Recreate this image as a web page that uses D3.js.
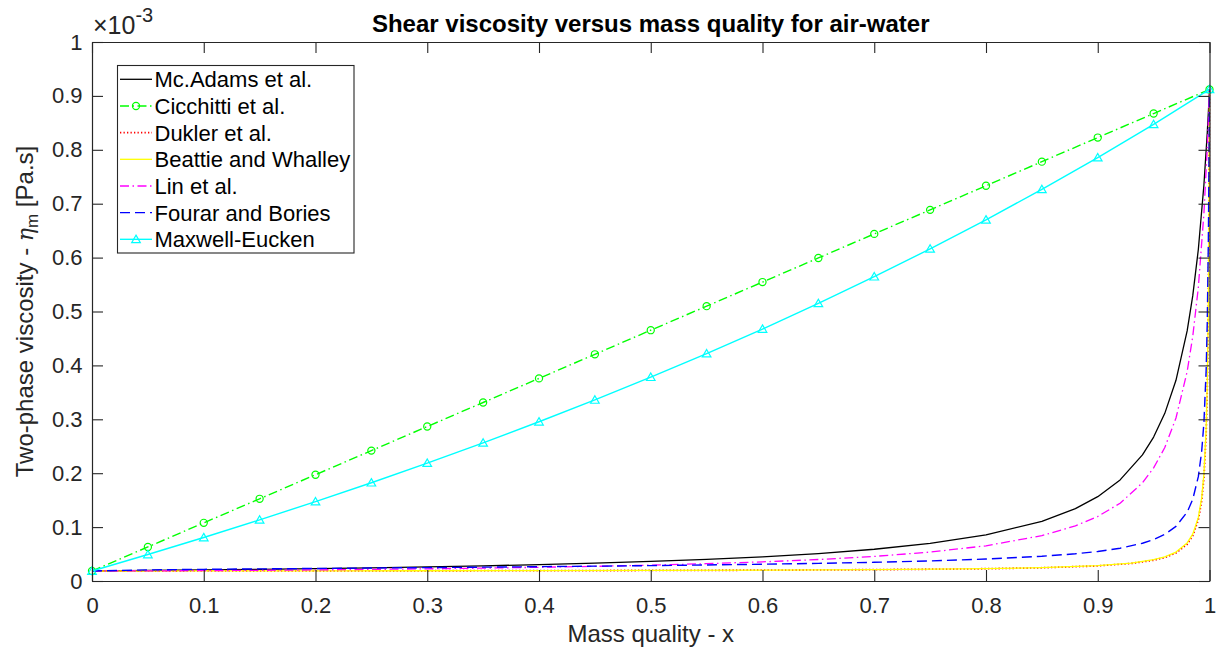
<!DOCTYPE html>
<html><head><meta charset="utf-8">
<script src="https://cdn.jsdelivr.net/npm/d3@7"></script>
<style>
body{margin:0;background:#fff}
svg{display:block}
text{font-family:"Liberation Sans",Arial,Helvetica,sans-serif}
</style>
</head><body>
<svg id="c" width="1219" height="651"></svg>
<script>
// ---- data (viscosity in units of 1e-3 Pa.s) ----
const xTicks = [0,0.1,0.2,0.3,0.4,0.5,0.6,0.7,0.8,0.9,1];
const xTickLabels = ["0","0.1","0.2","0.3","0.4","0.5","0.6","0.7","0.8","0.9","1"];
const yTicks = [0,0.1,0.2,0.3,0.4,0.5,0.6,0.7,0.8,0.9,1];
const yTickLabels = ["0","0.1","0.2","0.3","0.4","0.5","0.6","0.7","0.8","0.9","1"];

const xMarkers = [0,0.05,0.1,0.15,0.2,0.25,0.3,0.35,0.4,0.45,0.5,0.55,0.6,0.65,0.7,0.75,0.8,0.85,0.9,0.95,1];
const cicchitti = [0.0185,0.0632,0.1079,0.1525,0.1972,0.2419,0.2866,0.3312,0.3759,0.4206,0.4653,0.5099,0.5546,0.5993,0.6440,0.6886,0.7333,0.7780,0.8227,0.8673,0.912];
const maxwell = [0.0185,0.0491,0.0807,0.1134,0.1473,0.1823,0.2186,0.2563,0.2954,0.3359,0.3781,0.4219,0.4675,0.5150,0.5645,0.6162,0.6701,0.7265,0.7855,0.8472,0.912];

const xMcLin = [0,0.05,0.1,0.15,0.2,0.25,0.3,0.35,0.4,0.45,0.5,0.55,0.6,0.65,0.7,0.75,0.8,0.85,0.88,0.9,0.92,0.94,0.95,0.96,0.97,0.98,0.985,0.99,0.995,0.998,0.999,1];
const mcAdams = [0.0185,0.01945,0.02051,0.02169,0.02301,0.02450,0.02620,0.02815,0.03042,0.03309,0.03626,0.04012,0.04488,0.05094,0.05888,0.06976,0.08556,0.11062,0.13420,0.15644,0.18751,0.23397,0.26707,0.31106,0.37241,0.46389,0.52885,0.61497,0.73459,0.83167,0.86995,0.912];
const lin = [0.0185,0.01878,0.01925,0.01987,0.02062,0.02153,0.02261,0.02388,0.02540,0.02722,0.02942,0.03213,0.03552,0.03987,0.04564,0.05361,0.06534,0.08422,0.10231,0.11963,0.14428,0.18212,0.20982,0.24763,0.30237,0.38860,0.45345,0.54454,0.68175,0.80339,0.85424,0.912];

const xDukBW = [0,0.1,0.2,0.3,0.4,0.5,0.6,0.7,0.8,0.85,0.9,0.93,0.95,0.96,0.97,0.98,0.985,0.99,0.993,0.995,0.997,0.998,0.999,0.9995,1];
const dukler = [0.0185,0.01862,0.01877,0.01896,0.01922,0.01957,0.02011,0.02100,0.02278,0.02455,0.02807,0.03255,0.03846,0.04356,0.05194,0.06821,0.08389,0.11355,0.14870,0.19102,0.27361,0.35356,0.50609,0.64949,0.912];
const beattie = [0.0185,0.01863,0.01878,0.01898,0.01924,0.01963,0.02019,0.02113,0.02300,0.02486,0.02856,0.03327,0.03947,0.04482,0.05360,0.07064,0.08702,0.11795,0.15445,0.19823,0.28304,0.36440,0.51756,0.65909,0.912];

const xFourar = [0,0.05,0.1,0.15,0.2,0.25,0.3,0.35,0.4,0.45,0.5,0.55,0.6,0.65,0.7,0.75,0.8,0.85,0.88,0.9,0.92,0.94,0.95,0.96,0.97,0.98,0.985,0.99,0.993,0.995,0.997,0.998,0.999,0.9995,1];
const fourar = [0.0185,0.02062,0.02162,0.02247,0.02327,0.02406,0.02485,0.02568,0.02657,0.02752,0.02857,0.02976,0.03112,0.03274,0.03472,0.03726,0.04071,0.04585,0.05049,0.05480,0.06082,0.07002,0.07685,0.08645,0.10124,0.12776,0.15154,0.19364,0.24036,0.29356,0.39094,0.47933,0.63544,0.76782,0.912];

const seriesNames = ["Mc.Adams et al.","Cicchitti et al.","Dukler et al.","Beattie and Whalley","Lin et al.","Fourar and Bories","Maxwell-Eucken"];

// ---- layout / styles ----
const L=92, R=1209.5, T=42, B=581;
const axisColor="#262626";
const styles = [
  {name:seriesNames[0], xs:xMcLin, ys:mcAdams, color:"#000000", dash:null, w:1.3},
  {name:seriesNames[1], xs:xMarkers, ys:cicchitti, color:"#00ff00", dash:"9,3.5,1.5,3.5", w:1.4, marker:"circle"},
  {name:seriesNames[2], xs:xDukBW, ys:dukler, color:"#ff0000", dash:"1.3,2.2", w:1.8},
  {name:seriesNames[3], xs:xDukBW, ys:beattie, color:"#ffff00", dash:null, w:1.3},
  {name:seriesNames[4], xs:xMcLin, ys:lin, color:"#ff00ff", dash:"9,3.5,1.5,3.5", w:1.3},
  {name:seriesNames[5], xs:xFourar, ys:fourar, color:"#0000ff", dash:"10,5", w:1.4},
  {name:seriesNames[6], xs:xMarkers, ys:maxwell, color:"#00ffff", dash:null, w:1.4, marker:"triangle"}
];

const svg=d3.select("#c");
const x=d3.scaleLinear().domain([0,1]).range([L,R]);
const y=d3.scaleLinear().domain([0,1]).range([B,T]);

svg.append("rect").attr("x",L).attr("y",T).attr("width",R-L).attr("height",B-T).attr("fill","#fff");

// series
const line=d3.line().x(d=>x(d[0])).y(d=>y(d[1]));
const markerSym = {circle:d3.symbol().type(d3.symbolCircle).size(40), triangle:d3.symbol().type(d3.symbolTriangle).size(32)};
styles.forEach(s=>{
  const pts=s.xs.map((v,i)=>[v,s.ys[i]]);
  svg.append("path").attr("d",line(pts)).attr("fill","none").attr("stroke",s.color)
    .attr("stroke-width",s.w).attr("stroke-dasharray",s.dash).attr("stroke-linejoin","round");
  if(s.marker){
    svg.append("g").selectAll("path").data(pts).join("path")
      .attr("d",markerSym[s.marker]).attr("transform",d=>`translate(${x(d[0])},${y(d[1])+(s.marker==="triangle"?0.8:0)})`)
      .attr("fill","none").attr("stroke",s.color).attr("stroke-width",1.2);
  }
});

// axes
const tickLen=11;
const axB=d3.axisBottom(x).tickValues(xTicks).tickFormat((d,i)=>xTickLabels[i]).tickSizeInner(-tickLen).tickSizeOuter(0).tickPadding(16.5);
const axT=d3.axisTop(x).tickValues(xTicks).tickFormat("").tickSizeInner(-tickLen).tickSizeOuter(0);
const axL=d3.axisLeft(y).tickValues(yTicks).tickFormat((d,i)=>yTickLabels[i]).tickSizeInner(-tickLen).tickSizeOuter(0).tickPadding(9.5);
const axR=d3.axisRight(y).tickValues(yTicks).tickFormat("").tickSizeInner(-tickLen).tickSizeOuter(0);
function style(g){
  g.select(".domain").attr("stroke",axisColor).attr("stroke-width",1.2);
  g.selectAll(".tick line").attr("stroke",axisColor).attr("stroke-width",1.1);
  g.selectAll(".tick text").attr("fill",axisColor).style("font-size","22px").style("font-family",'"Liberation Sans",Arial,Helvetica,sans-serif');
}
svg.append("g").attr("transform",`translate(0,${B})`).call(axB).call(style);
svg.append("g").attr("transform",`translate(0,${T})`).call(axT).call(style);
svg.append("g").attr("transform",`translate(${L},0)`).call(axL).call(style);
svg.append("g").attr("transform",`translate(${R},0)`).call(axR).call(style);

// exponent
const ex=svg.append("text").attr("x",93).attr("y",34).attr("fill",axisColor).style("font-size","25px");
ex.append("tspan").text("×10");
ex.append("tspan").attr("dy",-12).style("font-size","20px").text("-3");

// title
svg.append("text").attr("x",(L+R)/2).attr("y",32).attr("text-anchor","middle")
  .style("font-size","24px").style("font-weight","bold").attr("fill","#000")
  .text("Shear viscosity versus mass quality for air-water");

// x label
svg.append("text").attr("x",(L+R)/2).attr("y",642).attr("text-anchor","middle")
  .style("font-size","24px").attr("fill",axisColor).text("Mass quality - x");

// y label
const yl=svg.append("text").attr("transform",`translate(33,${(T+B)/2}) rotate(-90)`).attr("text-anchor","middle")
  .style("font-size","24px").attr("fill",axisColor);
yl.append("tspan").text("Two-phase viscosity - ");
yl.append("tspan").style("font-family",'"DejaVu Serif",serif').style("font-style","italic").style("font-size","22px").text("η");
yl.append("tspan").attr("dy",5).style("font-size","17px").text("m");
yl.append("tspan").attr("dy",-5).text(" [Pa.s]");

// legend
const lg=svg.append("g");
lg.append("rect").attr("x",117.5).attr("y",65.5).attr("width",236.5).attr("height",187.5)
  .attr("fill","#fff").attr("stroke",axisColor).attr("stroke-width",1.1);
styles.forEach((s,i)=>{
  const cy=79.3+i*26.67;
  lg.append("line").attr("x1",120).attr("x2",152).attr("y1",cy).attr("y2",cy)
    .attr("stroke",s.color).attr("stroke-width",s.w).attr("stroke-dasharray",s.dash);
  if(s.marker){
    lg.append("path").attr("d",markerSym[s.marker]).attr("transform",`translate(136,${cy+(s.marker==="triangle"?0.8:0)})`)
      .attr("fill","none").attr("stroke",s.color).attr("stroke-width",1.2);
  }
  lg.append("text").attr("x",154.5).attr("y",cy+8).style("font-size","22px").attr("fill","#000").text(s.name);
});
</script>
</body></html>
